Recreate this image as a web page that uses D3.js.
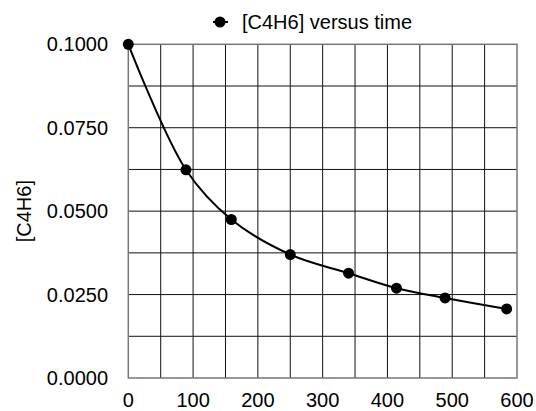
<!DOCTYPE html>
<html>
<head>
<meta charset="utf-8">
<script src="https://cdn.jsdelivr.net/npm/d3@7"></script>
<style>
  body { margin: 0; background: #fff; }
  svg { display: block; font-family: "Liberation Sans", Arial, Helvetica, sans-serif; }
</style>
</head>
<body>
<svg id="chart" width="536" height="411"></svg>
<script>
// time (s) and concentration
const times = [0, 89, 159, 250, 340, 414, 489, 584];
const conc = [0.1, 0.0624, 0.0475, 0.0370, 0.0314, 0.0269, 0.0240, 0.0207];
const xTicks = [0, 100, 200, 300, 400, 500, 600];
const yTicks = [0, 0.025, 0.05, 0.075, 0.1];
const seriesName = '[C4H6] versus time';
const yLabel = '[C4H6]';

const svg = d3.select('#chart');

const x = d3.scaleLinear().domain([0, 600]).range([128.3, 517]);
const y = d3.scaleLinear().domain([0, 0.1]).range([378, 44.3]);

// grid
const grid = svg.append('g');
grid.selectAll('.vx')
  .data(d3.range(50, 600, 50))
  .enter().append('line')
  .attr('x1', d => x(d)).attr('x2', d => x(d))
  .attr('y1', y(0)).attr('y2', y(0.1))
  .attr('stroke', '#111').attr('stroke-width', 1);

grid.selectAll('.hy')
  .data(d3.range(1, 8).map(i => i * 0.0125))
  .enter().append('line')
  .attr('x1', x(0)).attr('x2', x(600))
  .attr('y1', d => y(d)).attr('y2', d => y(d))
  .attr('stroke', '#111').attr('stroke-width', 1);

// frame
svg.append('rect')
  .attr('x', x(0)).attr('y', y(0.1))
  .attr('width', x(600) - x(0)).attr('height', y(0) - y(0.1))
  .attr('fill', 'none')
  .attr('stroke', '#777')
  .attr('stroke-width', 1.5);

// tick labels
svg.append('g').selectAll('text')
  .data(xTicks)
  .enter().append('text')
  .attr('x', d => x(d))
  .attr('y', 407)
  .attr('text-anchor', 'middle')
  .style('font-size', '20px')
  .text(d => d);

svg.append('g').selectAll('text')
  .data(yTicks)
  .enter().append('text')
  .attr('x', 108)
  .attr('y', d => y(d))
  .attr('dy', '0.35em')
  .attr('text-anchor', 'end')
  .style('font-size', '20px')
  .text(d3.format('.4f'));

// y axis label
svg.append('text')
  .attr('transform', `translate(31,${(y(0) + y(0.1)) / 2}) rotate(-90)`)
  .attr('text-anchor', 'middle')
  .style('font-size', '20px')
  .text(yLabel);

// series
const data = times.map((t, i) => ({ t, c: conc[i] }));

const line = d3.line()
  .x(d => x(d.t))
  .y(d => y(d.c))
  .curve(d3.curveCatmullRom);

svg.append('path')
  .datum(data)
  .attr('fill', 'none')
  .attr('stroke', '#000')
  .attr('stroke-width', 2)
  .attr('d', line);

svg.selectAll('.dot')
  .data(data)
  .enter().append('circle')
  .attr('cx', d => x(d.t))
  .attr('cy', d => y(d.c))
  .attr('r', 5.5)
  .attr('fill', '#000');

// legend
const legend = svg.append('g').attr('transform', 'translate(220,22)');
legend.append('line')
  .attr('x1', -7).attr('x2', 8)
  .attr('stroke', '#000').attr('stroke-width', 2);
legend.append('circle').attr('r', 5.5).attr('fill', '#000');
legend.append('text')
  .attr('x', 22)
  .attr('dy', '0.35em')
  .style('font-size', '20px')
  .text(seriesName);
</script>
</body>
</html>
